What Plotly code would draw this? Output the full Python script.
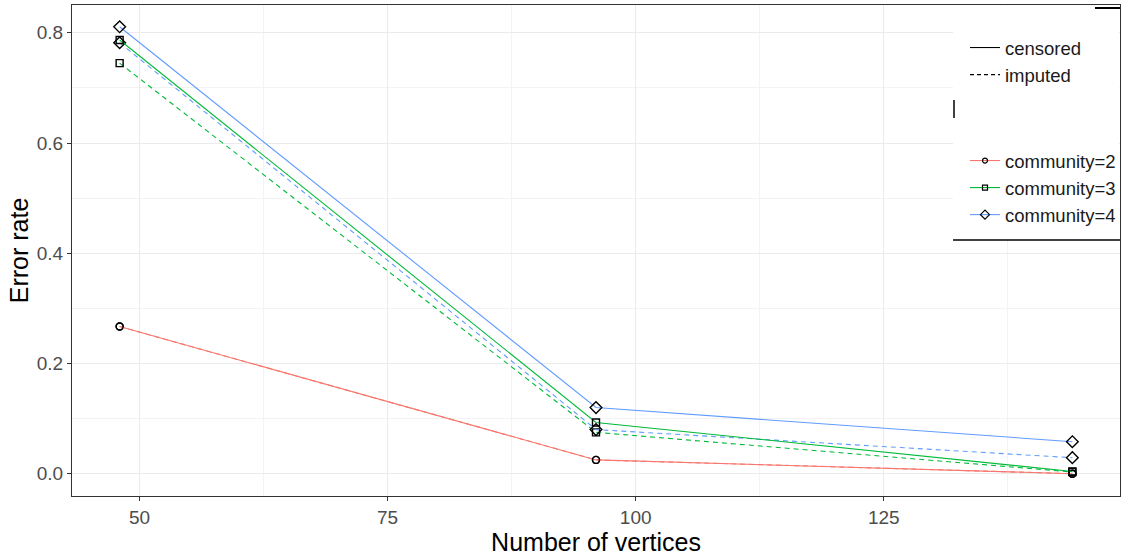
import plotly.graph_objects as go

vertices = [48, 96, 144]
communities = ["community=2", "community=3", "community=4"]
colors = ["#F8766D", "#00BA38", "#619CFF"]
symbols = ["circle-open", "square-open", "diamond-open"]
sizes = [7, 7, 9]

censored = {
    "community=2": [0.267, 0.025, 0.000],
    "community=3": [0.787, 0.093, 0.004],
    "community=4": [0.811, 0.120, 0.058],
}
imputed = {
    "community=2": [0.267, 0.025, 0.000],
    "community=3": [0.745, 0.075, 0.003],
    "community=4": [0.782, 0.080, 0.029],
}

FONT = "Liberation Sans, Arial, sans-serif"
W, H = 1123, 556
L, R, T, B = 72, 3, 5, 60
pw, ph = W - L - R, H - T - B


def px(x):
    return (x - L) / pw


def py(y):
    return (H - B - y) / ph


fig = go.Figure()

for kind, data, dash in [("imputed", imputed, "5px,4px"), ("censored", censored, "solid")]:
    for c, col, sym, sz in zip(communities, colors, symbols, sizes):
        fig.add_trace(go.Scatter(
            x=vertices, y=data[c], mode="lines+markers",
            line=dict(color=col, width=1.1, dash=dash),
            marker=dict(symbol=sym, size=sz, color="black", line=dict(color="black", width=1.4)),
            showlegend=False, hoverinfo="skip",
        ))

# legend entries
fig.add_trace(go.Scatter(x=[None], y=[None], mode="lines", name="censored",
                         line=dict(color="black", width=1.1), legend="legend"))
fig.add_trace(go.Scatter(x=[None], y=[None], mode="lines", name="imputed",
                         line=dict(color="black", width=1.1, dash="4px,3px"), legend="legend"))
for c, col, sym, sz in zip(communities, colors, symbols, sizes):
    fig.add_trace(go.Scatter(x=[None], y=[None], mode="lines+markers", name=c,
                             line=dict(color=col, width=1.1),
                             marker=dict(symbol=sym, size=sz - 2, color="black",
                                         line=dict(color="black", width=1.2)),
                             legend="legend2"))

grid_major = "#EBEBEB"
axis_common = dict(
    showline=True, mirror=True, linecolor="#333333", linewidth=1.2,
    ticks="outside", ticklen=4, tickcolor="#333333", tickwidth=1,
    showgrid=True, gridcolor=grid_major, gridwidth=1,
    zeroline=False,
    tickfont=dict(family=FONT, size=19, color="#4D4D4D"),
)

fig.update_xaxes(
    range=[43.2, 148.8], tickvals=[50, 75, 100, 125],
    title=dict(text="Number of vertices", font=dict(family=FONT, size=25, color="black"), standoff=0),
    minor=dict(showgrid=True, gridcolor="#F3F3F3", gridwidth=0.6, tickvals=[62.5, 87.5, 112.5, 137.5], ticks=""),
    **axis_common,
)
fig.update_yaxes(
    range=[-0.0405, 0.8505], tickvals=[0, 0.2, 0.4, 0.6, 0.8], ticktext=["0.0", "0.2", "0.4", "0.6", "0.8"],
    title=dict(text="Error rate", font=dict(family=FONT, size=25, color="black"), standoff=0),
    minor=dict(showgrid=True, gridcolor="#F3F3F3", gridwidth=0.6, tickvals=[0.1, 0.3, 0.5, 0.7], ticks=""),
    **axis_common,
)

# legend panel background and partial frame
shapes = [
    dict(type="rect", xref="paper", yref="paper", x0=px(953), x1=px(1119), y0=py(240), y1=py(6),
         fillcolor="white", line=dict(width=0), layer="above"),
    dict(type="line", xref="paper", yref="paper", x0=px(1095), x1=px(1120), y0=py(8), y1=py(8),
         line=dict(color="black", width=2), layer="above"),
    dict(type="line", xref="paper", yref="paper", x0=px(954), x1=px(954), y0=py(100), y1=py(118),
         line=dict(color="black", width=1.5), layer="above"),
    dict(type="line", xref="paper", yref="paper", x0=px(953), x1=px(1120), y0=py(240), y1=py(240),
         line=dict(color="black", width=1.5), layer="above"),
]

legend_font = dict(family=FONT, size=18.5, color="#1A1A1A")
fig.update_layout(
    width=W, height=H,
    margin=dict(l=L, r=R, t=T, b=B, autoexpand=False),
    paper_bgcolor="white", plot_bgcolor="white",
    shapes=shapes,
    legend=dict(x=px(965), y=py(29), xanchor="left", yanchor="top", bgcolor="rgba(0,0,0,0)",
                font=legend_font, itemwidth=30, tracegroupgap=0),
    legend2=dict(x=px(965), y=py(142), xanchor="left", yanchor="top", bgcolor="rgba(0,0,0,0)",
                 font=legend_font, itemwidth=30, tracegroupgap=0),
)

fig.write_html("out.html")
